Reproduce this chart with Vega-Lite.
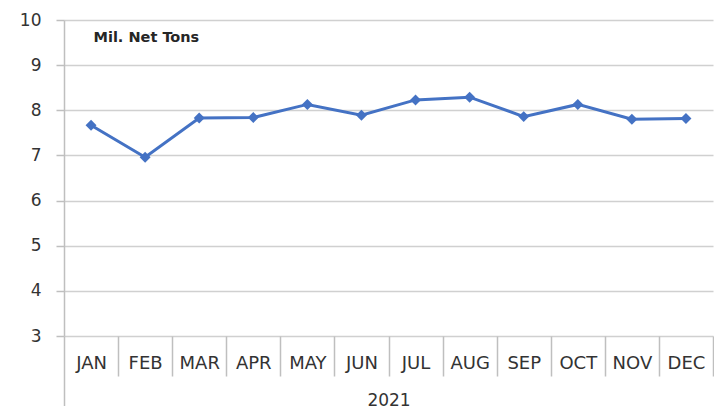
{
  "$schema": "https://vega.github.io/schema/vega-lite/v6.json",
  "width": 649,
  "height": 316,
  "autosize": {"type": "none"},
  "padding": {"left": 64, "top": 20, "right": 1, "bottom": 70},
  "background": "white",
  "config": {"view": {"stroke": null}, "font": "DejaVu Sans"},
  "data": {
    "values": [
      {"month": "JAN", "tons": 7.67},
      {"month": "FEB", "tons": 6.96},
      {"month": "MAR", "tons": 7.83},
      {"month": "APR", "tons": 7.84},
      {"month": "MAY", "tons": 8.13},
      {"month": "JUN", "tons": 7.89},
      {"month": "JUL", "tons": 8.23},
      {"month": "AUG", "tons": 8.29},
      {"month": "SEP", "tons": 7.86},
      {"month": "OCT", "tons": 8.13},
      {"month": "NOV", "tons": 7.8},
      {"month": "DEC", "tons": 7.82}
    ]
  },
  "encoding": {
    "x": {
      "field": "month",
      "type": "nominal",
      "sort": null,
      "scale": {"paddingInner": 0, "paddingOuter": 0},
      "axis": {
        "title": "2021",
        "titleFontSize": 17,
        "titleFontWeight": "normal",
        "titleColor": "#333333",
        "titleY": 56,
        "titleBaseline": "top",
        "labelAngle": 0,
        "labelFontSize": 18,
        "labelColor": "#333333",
        "labelBaseline": "middle",
        "labelPadding": -13,
        "tickBand": "extent",
        "tickSize": {"condition": {"test": "datum.extra", "value": 70}, "value": 40},
        "tickColor": "#bfbfbf",
        "tickWidth": 1.5,
        "domain": false,
        "grid": false
      }
    },
    "y": {
      "field": "tons",
      "type": "quantitative",
      "scale": {"domain": [3, 10], "nice": false, "zero": false},
      "axis": {
        "title": "Mil. Net Tons",
        "titleAngle": 0,
        "titleX": 29,
        "titleY": 17,
        "titleAlign": "left",
        "titleBaseline": "middle",
        "titleFontSize": 14.5,
        "titleFontWeight": "bold",
        "titleColor": "#262626",
        "values": [3, 4, 5, 6, 7, 8, 9, 10],
        "tickSize": 8,
        "tickColor": "#bfbfbf",
        "tickWidth": 1.5,
        "domainColor": "#bfbfbf",
        "domainWidth": 1.5,
        "gridColor": "#d0d0d0",
        "gridWidth": 1.5,
        "labelFontSize": 17,
        "labelColor": "#333333",
        "labelPadding": 15
      }
    }
  },
  "layer": [
    {"mark": {"type": "line", "color": "#4472C4", "strokeWidth": 3}},
    {"mark": {"type": "point", "shape": "diamond", "filled": true, "color": "#4472C4", "size": 120, "opacity": 1}}
  ]
}
